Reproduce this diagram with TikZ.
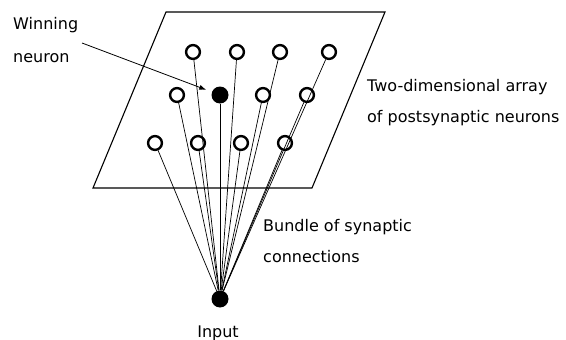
\documentclass[tikz,border=0pt]{standalone}
\usepackage{fontspec}
\setmainfont{DejaVu Sans}
\usetikzlibrary{arrows.meta}
\begin{document}
\begin{tikzpicture}[x=1pt,y=-1pt,
  neuron/.style={circle,draw,line width=2.4pt,minimum size=13.8pt,inner sep=0pt},
  winner/.style={circle,fill,minimum size=17pt,inner sep=0pt},
  syn/.style={line width=0.7pt},
  lbl/.style={anchor=base west,inner sep=0pt,font=\fontsize{16}{19}\selectfont},
  sheet/.style={line width=1.1pt,line join=miter}]
\useasboundingbox (0,0) rectangle (566,340);
% sheet
\draw[sheet] (166,12) -- (385,12) -- (312,188) -- (93,188) -- cycle;
% neurons
\node[neuron] (a1) at (193,52) {};
\node[neuron] (a2) at (237,52) {};
\node[neuron] (a3) at (280,52) {};
\node[neuron] (a4) at (329,52) {};
\node[neuron] (b1) at (177,95) {};
\node[winner] (w)  at (220,95) {};
\node[neuron] (b3) at (263,95) {};
\node[neuron] (b4) at (307,95) {};
\node[neuron] (c1) at (155,143) {};
\node[neuron] (c2) at (198,143) {};
\node[neuron] (c3) at (241,143) {};
\node[neuron] (c4) at (285,143) {};
\node[winner] (in) at (220,299) {};
% synaptic connections
\foreach \n in {a1,a2,a3,a4,b1,w,b3,b4,c1,c2,c3,c4}
  \draw[syn] (in) -- (\n);
% labels
\node[lbl] (win1) at (13,30) {Winning};
\node[lbl] (win2) at (13,63) {neuron};
\node[lbl] (arr1) at (367,91) {Two-dimensional array};
\node[lbl] (arr2) at (367,122) {of postsynaptic neurons};
\node[lbl] (bun1) at (263,231) {Bundle of synaptic};
\node[lbl] (bun2) at (263,262) {connections};
\node[anchor=base,inner sep=0pt,font=\fontsize{16}{19}\selectfont] (inp) at (218,337) {Input};
% arrow
\coordinate (wa) at (82,43);
\draw[-{Latex[length=7pt,width=5pt]},line width=0.8pt,shorten >=6pt] (wa) -- (w);
\end{tikzpicture}
\end{document}
